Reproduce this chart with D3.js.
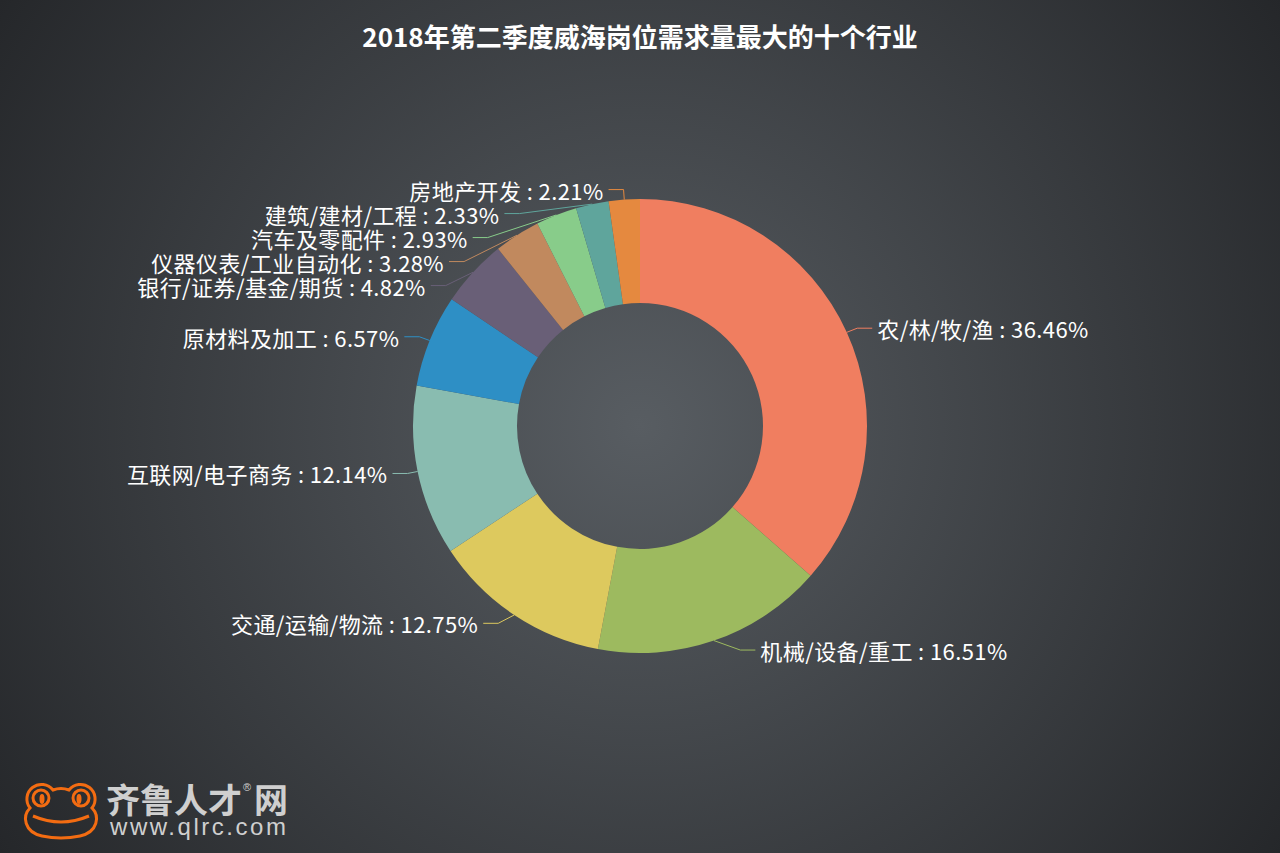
<!DOCTYPE html>
<html>
<head>
<meta charset="utf-8">
<script src="https://cdn.jsdelivr.net/npm/d3@7"></script>
<style>
  html, body { margin: 0; padding: 0; background: #2b2d31; }
  svg { display: block; }
</style>
</head>
<body>
<svg id="canvas"></svg>
<script>
// Data
const categories = ['农/林/牧/渔', '机械/设备/重工', '交通/运输/物流', '互联网/电子商务', '原材料及加工',
                    '银行/证券/基金/期货', '仪器仪表/工业自动化', '汽车及零配件', '建筑/建材/工程', '房地产开发'];
const values = [36.46, 16.51, 12.75, 12.14, 6.57, 4.82, 3.28, 2.93, 2.33, 2.21];
const colors = ['#f07e60', '#9dba5f', '#ddc95e', '#89bcb0', '#2e8fc5',
                '#695f77', '#c1895e', '#88cc8a', '#5fa59c', '#e5893f'];
const titleText = '2018年第二季度威海岗位需求量最大的十个行业';

const width = 1280, height = 853;
const cx = 640, cy = 426;
const rOuter = 227, rInner = 123;
const len1 = 10, len2 = 15, textGap = 5, lineH = 24;
const labelFont = '"Noto Sans CJK SC", "Noto Sans", sans-serif';

const svg = d3.select('#canvas').attr('width', width).attr('height', height);

// background: radial gradient, lighter in the middle
const defs = svg.append('defs');
const grad = defs.append('radialGradient').attr('id', 'bg')
  .attr('gradientUnits', 'userSpaceOnUse')
  .attr('cx', cx).attr('cy', cy).attr('r', 770);
grad.append('stop').attr('offset', '0%').attr('stop-color', '#585d62');
grad.append('stop').attr('offset', '100%').attr('stop-color', '#25272a');
svg.append('rect').attr('width', width).attr('height', height).attr('fill', 'url(#bg)');

// title
svg.append('text')
  .attr('x', cx).attr('y', 35)
  .attr('text-anchor', 'middle').attr('dominant-baseline', 'central')
  .style('font-family', labelFont).style('font-weight', 'bold').style('font-size', '26px')
  .attr('fill', '#ffffff')
  .text(titleText);

// donut
const pie = d3.pie().sort(null).value(d => d);
const arcs = pie(values);
const arc = d3.arc().innerRadius(rInner).outerRadius(rOuter);

const g = svg.append('g').attr('transform', `translate(${cx},${cy})`);
g.selectAll('path.slice')
  .data(arcs)
  .enter()
  .append('path')
  .attr('class', 'slice')
  .attr('d', arc)
  .attr('fill', (d, i) => colors[i]);

// label layout: outer labels, pushed down on each side when they collide,
// then x refitted to a circle round the donut
const labels = arcs.map((a, i) => {
  const mid = (a.startAngle + a.endAngle) / 2;
  const ux = Math.sin(mid), uy = -Math.cos(mid);
  const dir = ux < 0 ? -1 : 1;
  return {
    i, dir,
    p0: [cx + rOuter * ux, cy + rOuter * uy],
    x: cx + (rOuter + len1) * ux + dir * len2,
    y: cy + (rOuter + len1) * uy
  };
});

const adjustSide = (list, dir) => {
  list.sort((a, b) => a.y - b.y);
  let lastY = -Infinity;
  list.forEach(l => {
    if (l.y < lastY + lineH) l.y = lastY + lineH;
    lastY = l.y;
  });
  const R = rOuter + len1 + len2;
  const changeX = (sub, isDown) => {
    let lastDX = isDown ? Number.MAX_VALUE : 0;
    sub.forEach(l => {
      const dy = Math.abs(l.y - cy);
      let dx = dy < rOuter + len1 - 2 ? Math.sqrt(R * R - dy * dy) : Math.abs(l.x - cx);
      if (isDown && dx >= lastDX) dx = lastDX - 10;
      if (!isDown && dx <= lastDX) dx = lastDX + 10;
      l.x = cx + dx * dir;
      lastDX = dx;
    });
  };
  changeX(list.filter(l => l.y < cy), false);
  changeX(list.filter(l => l.y >= cy), true);
};
adjustSide(labels.filter(l => l.dir > 0), 1);
adjustSide(labels.filter(l => l.dir < 0), -1);

const line = d3.line();
svg.append('g').selectAll('path.label-line')
  .data(labels)
  .enter()
  .append('path')
  .attr('class', 'label-line')
  .attr('d', l => line([l.p0, [l.x - l.dir * len2, l.y], [l.x, l.y]]))
  .attr('fill', 'none')
  .attr('stroke', l => colors[l.i])
  .attr('stroke-width', 1);

svg.append('g').selectAll('text.label')
  .data(labels)
  .enter()
  .append('text')
  .attr('class', 'label')
  .attr('x', l => l.x + l.dir * textGap)
  .attr('y', l => l.y)
  .attr('text-anchor', l => l.dir > 0 ? 'start' : 'end')
  .attr('dominant-baseline', 'central')
  .style('font-family', labelFont).style('font-size', '22px').style('letter-spacing', '0.4px')
  .attr('fill', '#ffffff')
  .text(l => `${categories[l.i]} : ${values[l.i].toFixed(2)}%`);

// logo, bottom left
const orange = '#f36c12';
const logo = svg.append('g');
logo.append('path')
  .attr('d', 'M30,808 A13,13 0 0 1 53,790 Q61,787 69,790 A13,13 0 0 1 92,808 C100,816 98,832 80,836 Q61,840 42,836 C24,832 22,816 30,808 Z')
  .attr('fill', 'none').attr('stroke', orange).attr('stroke-width', 3);
logo.selectAll('circle.eye').data([41, 81]).enter().append('circle')
  .attr('class', 'eye').attr('cx', d => d).attr('cy', 798).attr('r', 8)
  .attr('fill', 'none').attr('stroke', orange).attr('stroke-width', 3);
logo.selectAll('ellipse.pupil').data([42, 79]).enter().append('ellipse')
  .attr('class', 'pupil').attr('cx', d => d).attr('cy', 799).attr('rx', 2.5).attr('ry', 5)
  .attr('fill', orange);
logo.append('path')
  .attr('d', 'M33,816 Q61,828 89,816')
  .attr('fill', 'none').attr('stroke', orange).attr('stroke-width', 3);

const brandStyle = sel => sel
  .style('font-family', labelFont).style('font-weight', 'bold').style('font-size', '34px')
  .attr('fill', '#cfcfcf');
logo.append('text').attr('x', 106).attr('y', 813).call(brandStyle).text('齐鲁人才');
logo.append('text').attr('x', 254).attr('y', 813).call(brandStyle).text('网');
logo.append('text').attr('x', 243).attr('y', 791)
  .style('font-family', '"Liberation Sans", Arial, sans-serif').style('font-size', '11px')
  .attr('fill', '#cfcfcf').text('®');

logo.append('text')
  .attr('x', 110).attr('y', 835)
  .attr('textLength', 176).attr('lengthAdjust', 'spacing')
  .style('font-family', '"Liberation Sans", Arial, sans-serif').style('font-size', '24px')
  .attr('fill', '#cfcfcf')
  .text('www.qlrc.com');
</script>
</body>
</html>
